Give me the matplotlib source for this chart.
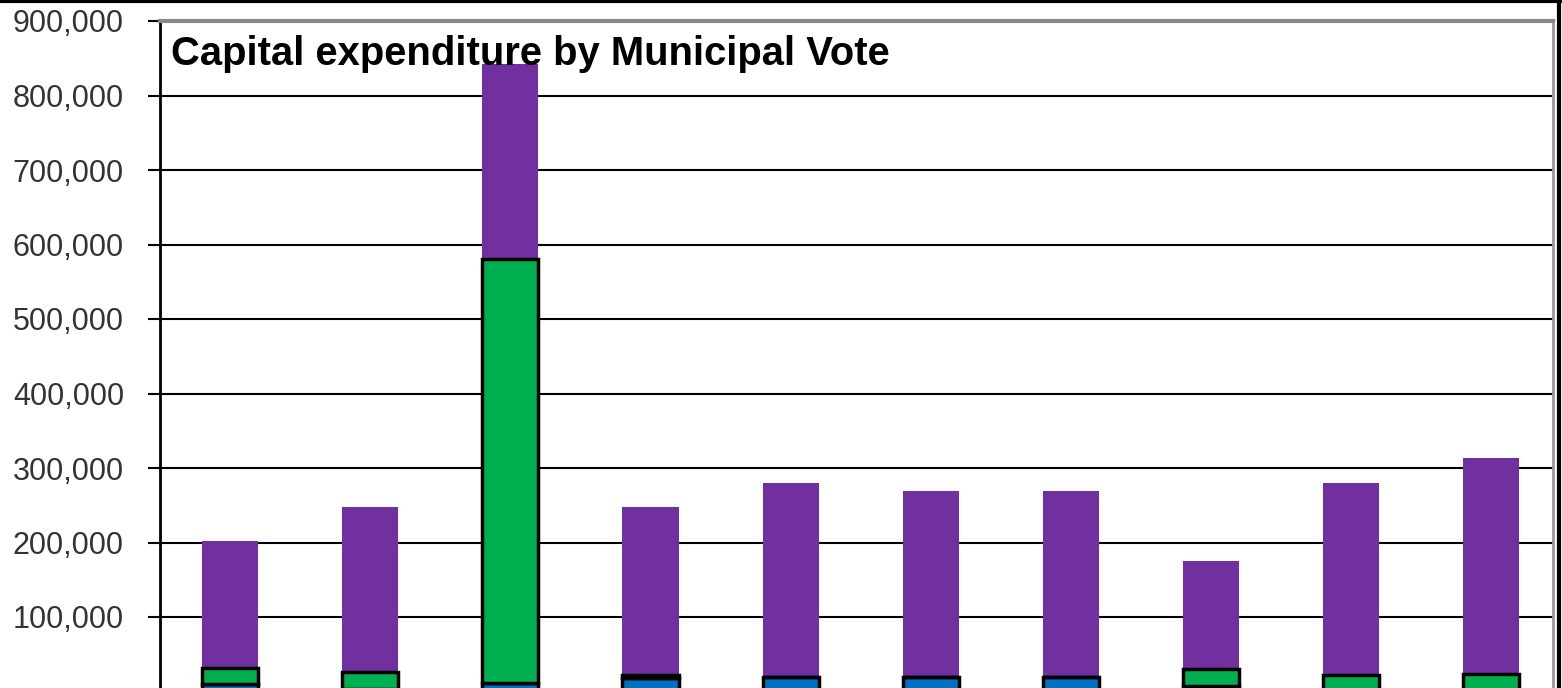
import matplotlib.pyplot as plt
import numpy as np

# values (10 votes, stacked)
votes = ['Vote 1', 'Vote 2', 'Vote 3', 'Vote 4', 'Vote 5',
         'Vote 6', 'Vote 7', 'Vote 8', 'Vote 9', 'Vote 10']
blue = [10000, 3000, 11000, 18000, 20000, 20000, 20000, 8000, 2000, 2000]
green = [21000, 23000, 569000, 4000, 0, 0, 0, 22000, 20000, 21000]
purple = [171000, 222000, 262000, 226000, 260000, 249000, 249000, 145000, 258000, 290000]
yticks = [100000, 200000, 300000, 400000, 500000, 600000, 700000, 800000, 900000]

plt.rcParams['font.family'] = ['Liberation Sans', 'DejaVu Sans']

fig = plt.figure(figsize=(15.62, 6.88), dpi=100)
ax = fig.add_axes([160 / 1562, -3.5 / 688, 1393 / 1562, 670.5 / 688])

x = np.arange(len(votes))
b = np.array(blue)
g = np.array(green)
p = np.array(purple)
w = 0.4
ax.bar(x, b, w, color='#0070C0', edgecolor='black', linewidth=2.5, zorder=3)
ax.bar(x, g, w, bottom=b, color='#00B050', edgecolor='black', linewidth=2.5, zorder=3)
ax.bar(x, p, w, bottom=b + g, color='#7030A0', linewidth=0, zorder=2)

ax.set_xlim(-0.5, 9.44)
ax.set_ylim(0, 900000)
ax.set_yticks(yticks)
ax.set_yticklabels([f'{v:,}' for v in yticks], fontsize=22, color='#333333')
ax.set_xticks([])
ax.tick_params(axis='y', length=9, width=1.5, pad=17)
for v in yticks[:-1]:
    ax.axhline(v, color='black', linewidth=1.5, zorder=1)

ax.spines['left'].set_linewidth(2)
ax.spines['top'].set_color('#888888')
ax.spines['top'].set_linewidth(3)
ax.spines['right'].set_color('#999999')
ax.spines['right'].set_linewidth(2)
ax.spines['bottom'].set_visible(False)

ax.text(0.008, 0.935, 'Capital expenditure by Municipal Vote', transform=ax.transAxes,
        fontsize=28.8, fontweight='bold', va='baseline', ha='left', zorder=5)

# outer frame of the chart (top and right edges visible)
fig.add_artist(plt.Line2D([0, 1], [0.998, 0.998], color='black', linewidth=3, transform=fig.transFigure))
fig.add_artist(plt.Line2D([0.998, 0.998], [0, 1], color='black', linewidth=3, transform=fig.transFigure))

fig.savefig('out.png', dpi=100)
